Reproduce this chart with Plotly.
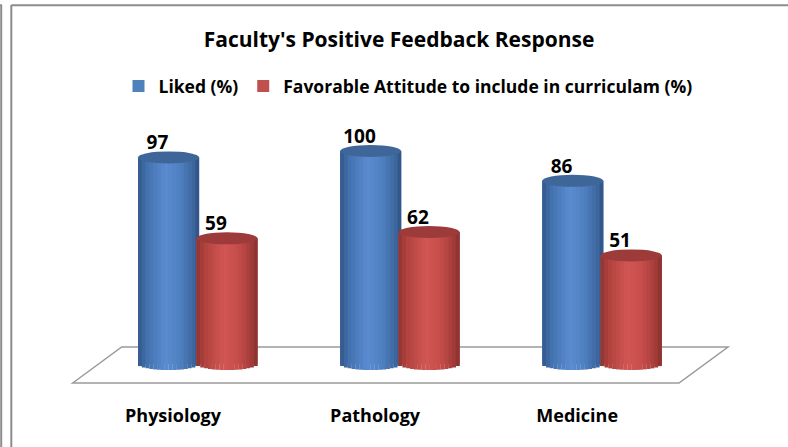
import plotly.graph_objects as go
import numpy as np

# ---- data ----
categories = ["Physiology", "Pathology", "Medicine"]
liked = [97, 100, 86]
favorable = [59, 62, 51]
series_names = ["Liked (%)", "Favorable Attitude to include in curriculam (%)"]
title_text = "Faculty's Positive Feedback Response"

# ---- style ----
FONT = "'Open Sans', Lato, Arial, sans-serif"
W = 0.302          # bar (cylinder) width in x units
SHIFT = 0.1447     # series offset from category centre
B = 2.82           # ellipse half-height in y units
NSTRIP = 16

blue_stops = [(0.0, "#32568A"), (0.15, "#4371AE"), (0.45, "#5B8CD1"),
              (0.7, "#4E7FC0"), (0.9, "#3E679E"), (1.0, "#2E5082")]
red_stops = [(0.0, "#8F3431"), (0.15, "#B2433F"), (0.45, "#D25754"),
             (0.7, "#C44C49"), (0.9, "#A23C39"), (1.0, "#86302D")]
base_cols = ["#4F81BD", "#C0504D"]
cap_cols = ["#3E6699", "#9C3B39"]


def hex2rgb(h):
    h = h.lstrip("#")
    return [int(h[i:i + 2], 16) for i in (0, 2, 4)]


def grad(stops, t):
    for (t0, c0), (t1, c1) in zip(stops[:-1], stops[1:]):
        if t0 <= t <= t1:
            f = (t - t0) / (t1 - t0) if t1 > t0 else 0
            a, b = hex2rgb(c0), hex2rgb(c1)
            r = [round(a[i] + (b[i] - a[i]) * f) for i in range(3)]
            return "rgb(%d,%d,%d)" % tuple(r)
    return stops[-1][1]


x_idx = list(range(len(categories)))
fig = go.Figure()
shapes = []

for s, (vals, name, stops) in enumerate(zip([liked, favorable], series_names,
                                            [blue_stops, red_stops])):
    shift = -SHIFT if s == 0 else SHIFT
    fig.add_trace(go.Bar(x=x_idx, y=vals, name=name, width=W, offset=shift - W / 2,
                         marker=dict(color=base_cols[s], line=dict(width=0)),
                         showlegend=True, hoverinfo="skip"))
    sw = W / NSTRIP
    for k in range(NSTRIP):
        u = -1 + (2 * k + 1) / NSTRIP
        base = -B * np.sqrt(max(0.0, 1 - u * u))
        t = (k + 0.5) / NSTRIP
        fig.add_trace(go.Bar(x=x_idx, y=[v - base for v in vals], base=[base] * len(vals),
                             width=sw * 1.05, offset=shift - W / 2 + k * sw,
                             marker=dict(color=grad(stops, t), line=dict(width=0)),
                             showlegend=False, hoverinfo="skip"))
    for xi, v in zip(x_idx, vals):
        shapes.append(dict(type="circle", xref="x", yref="y",
                           x0=xi + shift - W / 2, x1=xi + shift + W / 2,
                           y0=v - B, y1=v + B, fillcolor=cap_cols[s],
                           line=dict(width=0), layer="above"))
    fig.add_trace(go.Scatter(x=[xi + shift - 0.055 for xi in x_idx],
                             y=[v + 6.0 for v in vals], mode="text",
                             text=[str(v) for v in vals],
                             textfont=dict(family=FONT, size=19, color="#000000", weight="bold"),
                             showlegend=False, hoverinfo="skip"))

H_PLOT = 395.0
def px(x):
    return x / 788.0
def py(y):
    return (H_PLOT - y) / H_PLOT

floor = [(72.7, 383), (121.7, 347), (728, 347), (679, 383)]
path = "M " + " L ".join("%f,%f" % (px(a), py(b)) for a, b in floor) + " Z"
shapes.insert(0, dict(type="path", xref="paper", yref="paper", path=path,
                      fillcolor="rgba(0,0,0,0)", line=dict(color="#9A9A9A", width=1.5),
                      layer="below"))

gray = "#8C8C8C"
shapes += [
    dict(type="line", xref="paper", yref="paper", x0=px(1.2), x1=px(1.2), y0=py(5), y1=py(447),
         line=dict(color=gray, width=2)),
    dict(type="line", xref="paper", yref="paper", x0=px(0), x1=px(2), y0=py(5.3), y1=py(5.3),
         line=dict(color=gray, width=2)),
    dict(type="line", xref="paper", yref="paper", x0=px(11.3), x1=px(11.3), y0=py(5), y1=py(447),
         line=dict(color=gray, width=2)),
    dict(type="line", xref="paper", yref="paper", x0=px(11.3), x1=px(788), y0=py(5.3), y1=py(5.3),
         line=dict(color=gray, width=2)),
]

fig.update_layout(
    width=788, height=447, autosize=False,
    margin=dict(l=0, r=0, t=0, b=447 - H_PLOT, pad=0),
    paper_bgcolor="white", plot_bgcolor="white",
    barmode="overlay",
    title=dict(text=title_text, x=399 / 788, y=1 - 40 / 447, xanchor="center", yanchor="middle",
               xref="container", yref="container",
               font=dict(family=FONT, size=21, color="#000000", weight="bold")),
    legend=dict(orientation="h", x=408 / 788, xanchor="center", y=py(86), yanchor="middle",
                bgcolor="rgba(0,0,0,0)", font=dict(family=FONT, size=17.5, color="#000000", weight="bold"),
                itemwidth=30, traceorder="normal"),
    xaxis=dict(range=[-0.9785, 2.9205], tickvals=[i - 0.1225 for i in x_idx], ticktext=categories,
               showgrid=False, zeroline=False, showline=False, ticks="outside", ticklen=4,
               tickcolor="rgba(0,0,0,0)",
               tickfont=dict(family=FONT, size=18, color="#000000", weight="bold"), fixedrange=True),
    yaxis=dict(range=[-14.55, 170.9], visible=False, fixedrange=True),
    shapes=shapes,
    showlegend=True,
)

fig.write_html("out.html", config={"displayModeBar": False},
               post_script="document.body.style.margin='0';document.body.style.overflow='hidden';")
